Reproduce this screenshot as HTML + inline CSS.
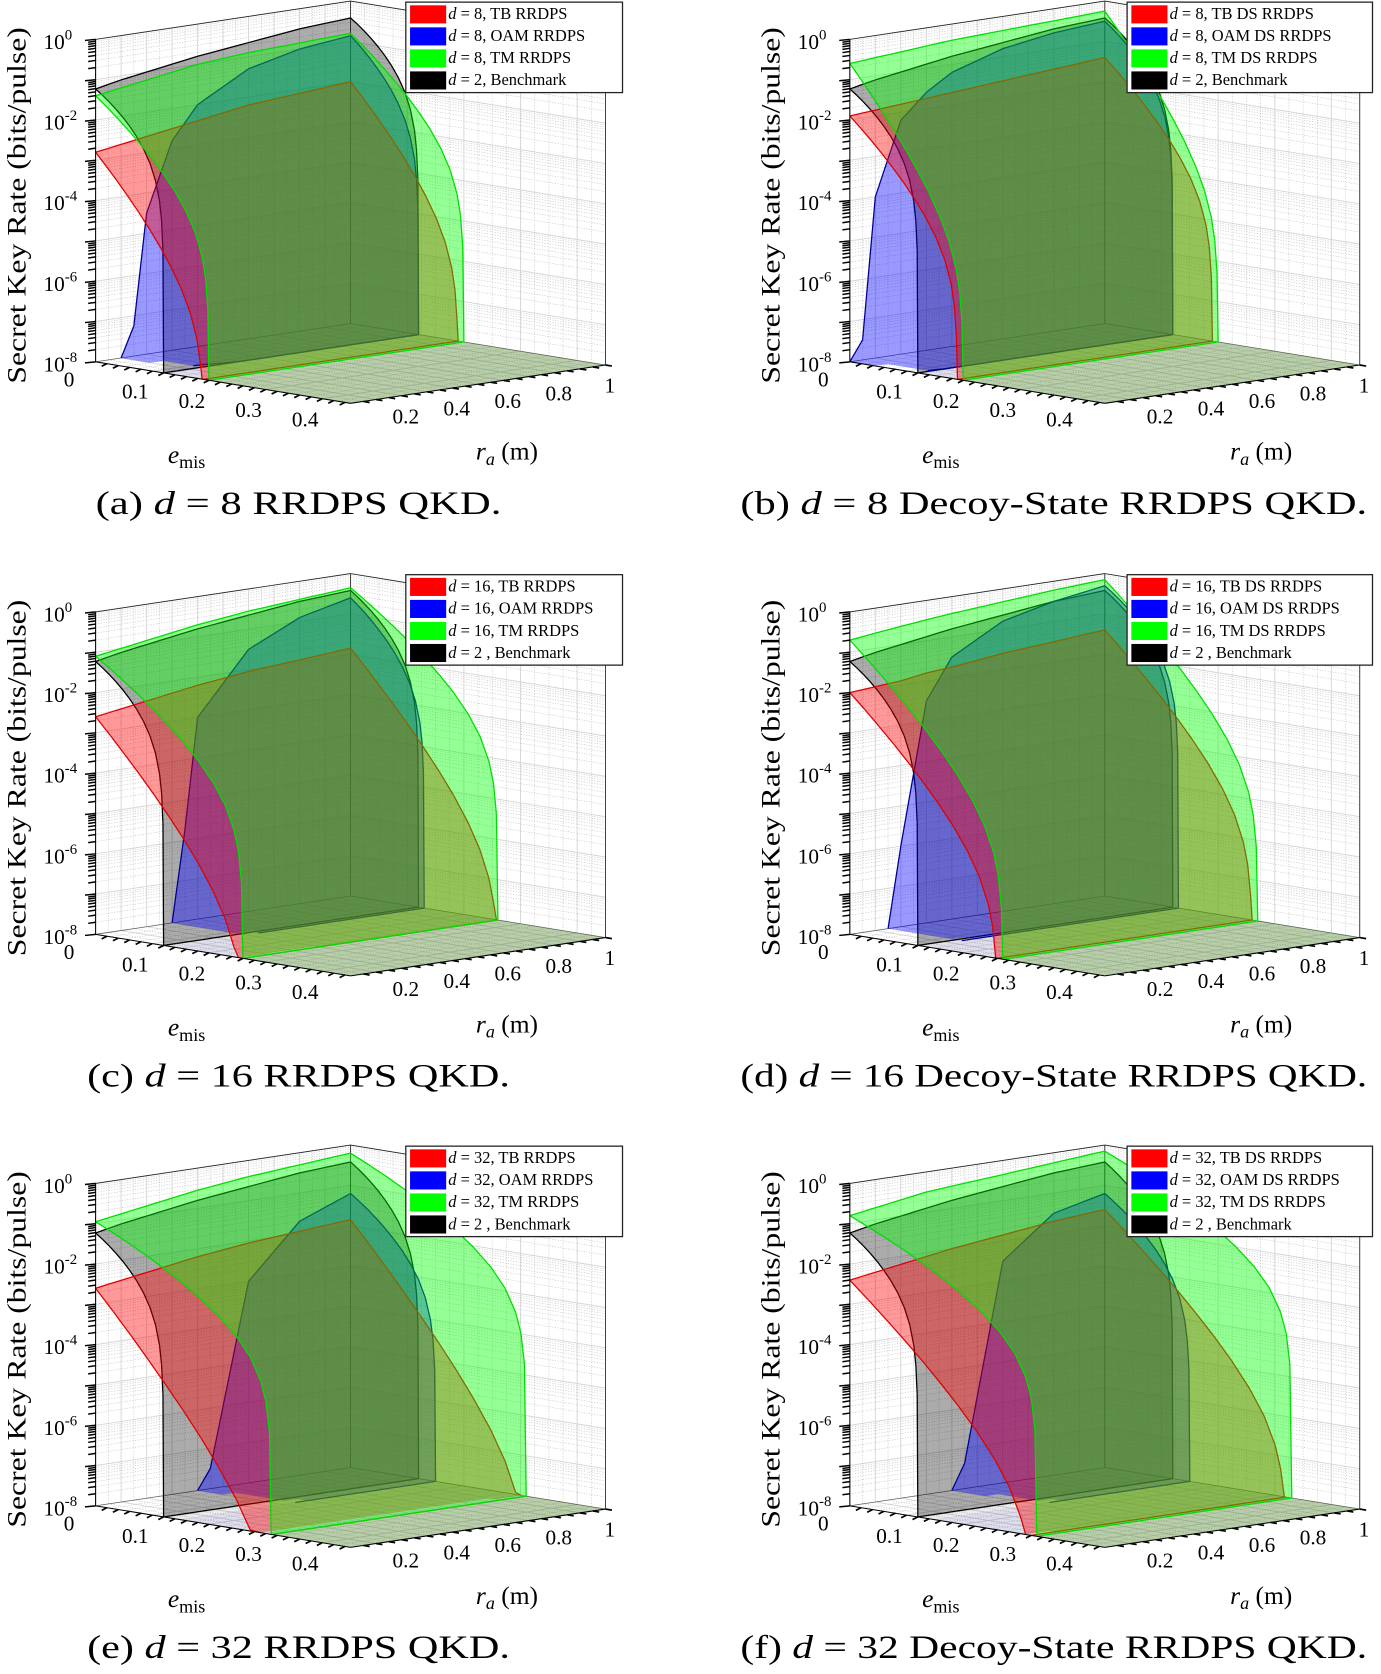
<!DOCTYPE html>
<html><head><meta charset="utf-8"><title>RRDPS QKD secret key rate surfaces</title>
<style>
html,body{margin:0;padding:0;background:#fff;}
svg{display:block;font-family:"Liberation Serif",serif;}
</style></head>
<body>
<svg id="fig" xmlns="http://www.w3.org/2000/svg" width="1381" height="1674" viewBox="0 0 1300 1573" preserveAspectRatio="none"></svg>
<script>
// ---------- data (log10 of key rate) ----------
const rGrid = [0, 0.1, 0.2, 0.3, 0.4, 0.6, 0.8, 1.0];
const zTicks = [-8, -6, -4, -2, 0];
const zTickLabels = ["-8", "-6", "-4", "-2", "0"];
const eTicks = [0.1, 0.2, 0.3, 0.4];
const eTickLabels = ["0.1", "0.2", "0.3", "0.4"];
const rTicks = [0.2, 0.4, 0.6, 0.8, 1];
const rTickLabels = ["0.2", "0.4", "0.6", "0.8", "1"];

// benchmark d=2 (same in all panels)
const bmTop = [-1.23, -1.1, -1.0, -0.9, -0.8, -0.65, -0.5, -0.42];
const bmCut = [0.12, 0.12, 0.12, 0.12, 0.12, 0.12, 0.12, 0.12];
// (a) d=8 RRDPS
const aTBTop = [-2.8, -2.7, -2.6, -2.5, -2.4, -2.2, -2.1, -2.0];
const aTBCut = [0.19, 0.19, 0.19, 0.19, 0.19, 0.19, 0.19, 0.19];
const aOAMTop = [-12, -10, -4.5, -2.8, -2.0, -1.3, -1.0, -0.86];
const aOAMCut = [0.1, 0.1, 0.11, 0.12, 0.12, 0.12, 0.12, 0.12];
const aTMTop = [-1.4, -1.3, -1.2, -1.1, -1.0, -0.9, -0.85, -0.8];
const aTMCut = [0.2, 0.2, 0.2, 0.2, 0.2, 0.2, 0.2, 0.2];
// (b) d=8 decoy
const bTBTop = [-1.9, -1.85, -1.8, -1.75, -1.7, -1.6, -1.5, -1.4];
const bTBCut = [0.19, 0.19, 0.19, 0.19, 0.19, 0.19, 0.19, 0.19];
const bOAMTop = [-11, -4, -2.2, -1.6, -1.2, -0.8, -0.6, -0.5];
const bOAMCut = [0.11, 0.12, 0.12, 0.12, 0.12, 0.12, 0.12, 0.12];
const bTMTop = [-0.6, -0.55, -0.5, -0.45, -0.4, -0.35, -0.3, -0.25];
const bTMCut = [0.2, 0.2, 0.2, 0.2, 0.2, 0.2, 0.2, 0.2];
// (c) d=16
const cTBTop = [-2.6, -2.5, -2.4, -2.3, -2.2, -2.05, -1.95, -1.85];
const cTBCut = [0.26, 0.26, 0.26, 0.26, 0.26, 0.26, 0.26, 0.26];
const cOAMTop = [-14, -12, -10, -8.5, -3, -1.5, -0.9, -0.6];
const cOAMCut = [0.13, 0.13, 0.13, 0.13, 0.13, 0.13, 0.13, 0.13];
const cTMTop = [-1.1, -1.0, -0.9, -0.8, -0.7, -0.55, -0.45, -0.35];
const cTMCut = [0.26, 0.26, 0.26, 0.26, 0.26, 0.26, 0.26, 0.26];
// (d) d=16 decoy
const dTBTop = [-2.0, -1.95, -1.9, -1.8, -1.75, -1.6, -1.5, -1.4];
const dTBCut = [0.26, 0.26, 0.26, 0.26, 0.26, 0.26, 0.26, 0.26];
const dOAMTop = [-12, -10, -6, -2.5, -1.5, -0.8, -0.5, -0.3];
const dOAMCut = [0.13, 0.13, 0.13, 0.13, 0.13, 0.13, 0.13, 0.13];
const dTMTop = [-0.7, -0.62, -0.55, -0.48, -0.42, -0.32, -0.22, -0.15];
const dTMCut = [0.27, 0.27, 0.27, 0.27, 0.27, 0.27, 0.27, 0.27];
// (e) d=32
const eTBTop = [-2.6, -2.5, -2.4, -2.3, -2.2, -2.05, -1.95, -1.85];
const eTBCut = [0.31, 0.31, 0.31, 0.31, 0.31, 0.31, 0.31, 0.31];
const eOAMTop = [-16, -14, -12, -10, -9, -3, -1.7, -1.2];
const eOAMCut = [0.15, 0.15, 0.15, 0.15, 0.15, 0.15, 0.15, 0.15];
const eTMTop = [-0.95, -0.85, -0.75, -0.65, -0.55, -0.4, -0.3, -0.2];
const eTMCut = [0.31, 0.31, 0.31, 0.31, 0.31, 0.31, 0.31, 0.31];
// (f) d=32 decoy
const fTBTop = [-2.4, -2.3, -2.2, -2.1, -2.0, -1.85, -1.7, -1.6];
const fTBCut = [0.32, 0.32, 0.32, 0.32, 0.32, 0.32, 0.32, 0.32];
const fOAMTop = [-16, -14, -12, -10, -9, -2.5, -1.5, -1.2];
const fOAMCut = [0.15, 0.15, 0.15, 0.15, 0.15, 0.15, 0.15, 0.15];
const fTMTop = [-0.8, -0.7, -0.6, -0.5, -0.45, -0.35, -0.25, -0.15];
const fTMCut = [0.33, 0.33, 0.33, 0.33, 0.33, 0.33, 0.33, 0.33];

// decay slopes per series (dimensionless)
const slopesA = [3, 1.5, 2.3, 1.2];
const slopesB = [2.5, 1.3, 3.5, 1.2];
const slopesC = [4, 1.5, 2.5, 1.2];
const slopesD = [3.5, 1.3, 3.5, 1.2];
const slopesE = [5, 1.5, 2, 1.2];
const slopesF = [4, 1.5, 2, 1.2];

// ---------- drawing ----------
const NS = "http://www.w3.org/2000/svg";
const svg = document.getElementById("fig");
const EMAX = 0.45, H = 303;
function mk(tag, attrs, parent) {
  const el = document.createElementNS(NS, tag);
  for (const k in attrs) el.setAttribute(k, attrs[k]);
  (parent || svg).appendChild(el);
  return el;
}
function interp(arr, r) {
  for (let i = 0; i < rGrid.length - 1; i++) {
    if (r <= rGrid[i + 1]) {
      const t = (r - rGrid[i]) / (rGrid[i + 1] - rGrid[i]);
      return arr[i] + t * (arr[i + 1] - arr[i]);
    }
  }
  return arr[arr.length - 1];
}
function proj(p, e, r, z) {
  const a = e / EMAX;
  return [p.ax + a * 240 + r * 240, p.ay + a * 39 - r * 36 - (z + 8) / 8 * H];
}
function zval(s, u, r) {
  if (u >= 1) return -8;
  const v = interp(s.top, r) - s.k * u + 1.5 * Math.log10(1 - u * u);
  return Math.min(0, Math.max(-8, v));
}
function pts(arr) { return arr.map(q => q[0].toFixed(1) + "," + q[1].toFixed(1)).join(" "); }

const colors = ["#ff0000", "#0000ff", "#00ff00", "#000000"];
const edgeColors = ["#e00000", "#000090", "#00dd00", "#000000"];
const alphas = [0.4, 0.4, 0.42, 0.33];
const floorAlphas = [0.12, 0.06, 0.18, 0.08];
const seriesNames = ["tb", "oam", "tm", "benchmark"];

const panels = [
  {id: "a", ax: 90, ay: 340, d: "8", ds: false, tops: [aTBTop, aOAMTop, aTMTop, bmTop], cuts: [aTBCut, aOAMCut, aTMCut, bmCut], ks: slopesA},
  {id: "b", ax: 800, ay: 340, d: "8", ds: true, tops: [bTBTop, bOAMTop, bTMTop, bmTop], cuts: [bTBCut, bOAMCut, bTMCut, bmCut], ks: slopesB},
  {id: "c", ax: 90, ay: 878, d: "16", ds: false, tops: [cTBTop, cOAMTop, cTMTop, bmTop], cuts: [cTBCut, cOAMCut, cTMCut, bmCut], ks: slopesC},
  {id: "d", ax: 800, ay: 878, d: "16", ds: true, tops: [dTBTop, dOAMTop, dTMTop, bmTop], cuts: [dTBCut, dOAMCut, dTMCut, bmCut], ks: slopesD},
  {id: "e", ax: 90, ay: 1415, d: "32", ds: false, tops: [eTBTop, eOAMTop, eTMTop, bmTop], cuts: [eTBCut, eOAMCut, eTMCut, bmCut], ks: slopesE},
  {id: "f", ax: 800, ay: 1415, d: "32", ds: true, tops: [fTBTop, fOAMTop, fTMTop, bmTop], cuts: [fTBCut, fOAMCut, fTMCut, bmCut], ks: slopesF}
];

const uS = [0, .1, .2, .3, .4, .5, .6, .7, .8, .88, .94, .97, .99, 1];
const rS = []; for (let i = 0; i <= 20; i++) rS.push(i / 20);

function line(g, p1, p2, st) {
  const l = mk("line", {x1: p1[0].toFixed(1), y1: p1[1].toFixed(1), x2: p2[0].toFixed(1), y2: p2[1].toFixed(1)}, g);
  for (const k in st) l.setAttribute(k, st[k]);
  return l;
}

panels.forEach(p => {
  const g = mk("g", {});
  
  

  const A = proj(p, 0, 0, -8), D = proj(p, 0, 1, -8), C = proj(p, EMAX, 1, -8), B = proj(p, EMAX, 0, -8);
  const At = proj(p, 0, 0, 0), Dt = proj(p, 0, 1, 0), Ct = proj(p, EMAX, 1, 0);
  const walls = mk("g", {}, g);
  
  
  mk("polygon", {points: pts([A, D, Dt, At]), fill: "#fff"}, walls);
  mk("polygon", {points: pts([D, C, Ct, Dt]), fill: "#fff"}, walls);
  const minor = {stroke: "#bdbdbd", "stroke-width": "0.6", "stroke-dasharray": "1,1.5"};
  const major = {stroke: "#d6d6d6", "stroke-width": "0.9"};
  for (let dec = -8; dec < 0; dec++) {
    for (let m = 2; m <= 9; m++) {
      const z = dec + Math.log10(m);
      line(walls, proj(p, 0, 0, z), proj(p, 0, 1, z), minor);
      line(walls, proj(p, 0, 1, z), proj(p, EMAX, 1, z), minor);
    }
  }
  for (let z = -8; z <= 0; z++) {
    line(walls, proj(p, 0, 0, z), proj(p, 0, 1, z), major);
    line(walls, proj(p, 0, 1, z), proj(p, EMAX, 1, z), major);
  }
  for (let r = 0.05; r < 1; r += 0.05) {
    const st = Math.abs(r * 10 - Math.round(r * 10)) < 0.01 ? major : minor;
    line(walls, proj(p, 0, r, -8), proj(p, 0, r, 0), st);
    line(walls, proj(p, 0, r, -8), proj(p, EMAX, r, -8), st);
  }
  for (let e = 0.025; e < EMAX; e += 0.025) {
    const st = Math.abs(e * 20 - Math.round(e * 20)) < 0.01 && Math.round(e * 20) % 2 === 0 ? major : minor;
    line(walls, proj(p, e, 1, -8), proj(p, e, 1, 0), st);
    line(walls, proj(p, e, 0, -8), proj(p, e, 1, -8), st);
  }
  const box = {stroke: "#222", "stroke-width": "0.8"};
  line(walls, At, Dt, box); line(walls, Dt, Ct, box);
  line(walls, D, Dt, box); line(walls, C, Ct, box);
  line(walls, A, D, {stroke: "#555", "stroke-width": "0.6"});
  line(walls, D, C, {stroke: "#555", "stroke-width": "0.6"});

  const order = [3, 1, 0, 2];
  order.forEach(si => {
    const s = {top: p.tops[si], cut: p.cuts[si], k: p.ks[si]};
    const sg = mk("g", {fill: colors[si], "fill-opacity": alphas[si]}, g);
    
    
    const fl = [];
    rS.forEach(r => fl.push(proj(p, interp(s.cut, r), r, -8)));
    fl.push(proj(p, EMAX, 1, -8)); fl.push(proj(p, EMAX, 0, -8));
    const fp = mk("polygon", {points: pts(fl), "fill-opacity": floorAlphas[si]}, sg);
    
    
    for (let j = 0; j < rS.length - 1; j++) {
      for (let i = 0; i < uS.length - 1; i++) {
        const cs = [[i, j], [i + 1, j], [i + 1, j + 1], [i, j + 1]].map(([ii, jj]) => {
          const r = rS[jj], u = uS[ii];
          const e = u * interp(s.cut, r);
          return {z: zval(s, u, r), e: e, r: r};
        });
        if (cs.every(c => c.z <= -8)) continue;
        const q = mk("polygon", {points: pts(cs.map(c => proj(p, c.e, c.r, c.z)))}, sg);
        
        
      }
    }
    const eg = mk("g", {fill: "none", stroke: edgeColors[si], "stroke-width": "1.2"}, g);
    
    
    const curves = [];
    curves.push(rS.map(r => ({e: 0, r: r, z: zval(s, 0, r)})));
    [0, 1].forEach(r => curves.push(uS.map(u => ({e: u * interp(s.cut, r), r: r, z: zval(s, u, r)}))));
    curves.push(rS.map(r => ({e: interp(s.cut, r), r: r, z: -8})));
    curves.forEach((cv, ci) => {
      for (let i = 0; i < cv.length - 1; i++) {
        if (ci < 3 && cv[i].z <= -8 && cv[i + 1].z <= -8) continue;
        if (ci === 3 && interp(s.top, cv[i].r) < -8) continue;
        line(eg, proj(p, cv[i].e, cv[i].r, cv[i].z), proj(p, cv[i + 1].e, cv[i + 1].r, cv[i + 1].z), {});
      }
    });
  });

  const ax = mk("g", {stroke: "#000", "stroke-width": "1"}, g);
  
  
  line(ax, A, At, {}); line(ax, A, B, {}); line(ax, B, C, {});
  for (let dec = -8; dec < 0; dec++) {
    for (let m = 1; m <= 9; m++) {
      const z = dec + Math.log10(m);
      const q = proj(p, 0, 0, z);
      line(ax, [q[0] - (m === 1 ? 10 : 7), q[1] + 1], q, {"stroke-width": "1.4"});
    }
  }
  line(ax, [At[0] - 10, At[1] + 1], At, {"stroke-width": "1.4"});
  for (let e = 0.02; e < EMAX; e += 0.02) {
    const q = proj(p, e, 0, -8);
    line(ax, q, [q[0] - 5, q[1] + 2.5], {"stroke-width": "1.6"});
  }
  for (let r = 0.05; r <= 1.001; r += 0.05) {
    const q = proj(p, EMAX, r, -8);
    line(ax, q, [q[0] + 6, q[1] + 1], {"stroke-width": "1.6"});
  }

  const tl = mk("g", {"font-size": "20", fill: "#000"}, g);
  
  
  zTicks.forEach((z, i) => {
    const q = proj(p, 0, 0, z);
    const t = mk("text", {x: (q[0] - 49).toFixed(1), y: (q[1] + 9).toFixed(1)}, tl);
    
    
    t.textContent = "10";
    const sup = mk("tspan", {"font-size": "14", dy: "-9"}, t);
    sup.textContent = zTickLabels[i];
  });
  const t0 = mk("text", {x: (A[0] - 30).toFixed(1), y: (A[1] + 23).toFixed(1)}, tl);
  
  
  t0.textContent = "0";
  eTicks.forEach((e, i) => {
    const q = proj(p, e, 0, -8);
    const t = mk("text", {x: (q[0] - 16).toFixed(1), y: (q[1] + 26).toFixed(1), "text-anchor": "middle"}, tl);
    
    
    t.textContent = eTickLabels[i];
  });
  rTicks.forEach((r, i) => {
    const q = proj(p, EMAX, r, -8);
    const t = mk("text", {x: (q[0] + 4).toFixed(1), y: (q[1] + 26).toFixed(1), "text-anchor": "middle"}, tl);
    
    
    t.textContent = rTickLabels[i];
  });

  const yl = mk("text", {x: 0, y: 0, "font-size": "25", "text-anchor": "middle", transform: `translate(${A[0] - 66},${A[1] - 147}) rotate(-90)`, textLength: "335", lengthAdjust: "spacingAndGlyphs"}, g);
  
  
  yl.textContent = "Secret Key Rate (bits/pulse)";
  const el = mk("text", {x: A[0] + 68, y: A[1] + 95, "font-size": "24", "font-style": "italic"}, g);
  
  
  el.textContent = "e";
  const sub = mk("tspan", {"font-size": "17", "font-style": "normal", dy: "5"}, el);
  sub.textContent = "mis";
  const rl = mk("text", {x: A[0] + 358, y: A[1] + 92, "font-size": "24"}, g);
  
  
  const ri = mk("tspan", {"font-style": "italic"}, rl); ri.textContent = "r";
  const rs = mk("tspan", {"font-size": "17", "font-style": "italic", dy: "5"}, rl); rs.textContent = "a";
  const rm = mk("tspan", {dy: "-5"}, rl); rm.textContent = " (m)";

  const lx = p.ds ? 1061 : 382, lw = p.ds ? 231 : 204, ly = p.ay - 338;
  const lg = mk("g", {}, g);
  
  
  mk("rect", {x: lx, y: ly, width: lw, height: 85, fill: "#fff", stroke: "#222", "stroke-width": "1.2"}, lg);
  const labs = p.ds ? ["TB DS RRDPS", "OAM DS RRDPS", "TM DS RRDPS"] : ["TB RRDPS", "OAM RRDPS", "TM RRDPS"];
  const sep = p.d === "8" ? "," : " ,";
  [0, 1, 2, 3].forEach(i => {
    const yy = ly + 11 + i * 20.7;
    const ent = mk("g", {}, lg);
    
    
    mk("rect", {x: lx + 4, y: yy - 8, width: 34, height: 17, fill: colors[i]}, ent);
    const t = mk("text", {x: lx + 40, y: yy + 5, "font-size": "15.5"}, ent);
    const di = mk("tspan", {"font-style": "italic"}, t); di.textContent = "d";
    const rest = mk("tspan", {}, t);
    rest.textContent = i < 3 ? " = " + p.d + ", " + labs[i] : " = 2" + sep + " Benchmark";
  });

  const titles = {a: "RRDPS QKD.", b: "Decoy-State RRDPS QKD.", c: "RRDPS QKD.", d: "Decoy-State RRDPS QKD.", e: "RRDPS QKD.", f: "Decoy-State RRDPS QKD."};
  const tx = p.ds ? 697 : (p.d === "8" ? 90 : 82);
  const tw = p.ds ? 590 : (p.d === "8" ? 382 : 398);
  const cap = mk("text", {x: tx, y: p.ay + 143, "font-size": "31", textLength: tw, lengthAdjust: "spacingAndGlyphs"}, g);
  
  
  const c1 = mk("tspan", {}, cap); c1.textContent = "(" + p.id + ") ";
  const c2 = mk("tspan", {"font-style": "italic"}, cap); c2.textContent = "d";
  const c3 = mk("tspan", {}, cap); c3.textContent = " = " + p.d + " " + titles[p.id];
});
</script>
</body></html>
